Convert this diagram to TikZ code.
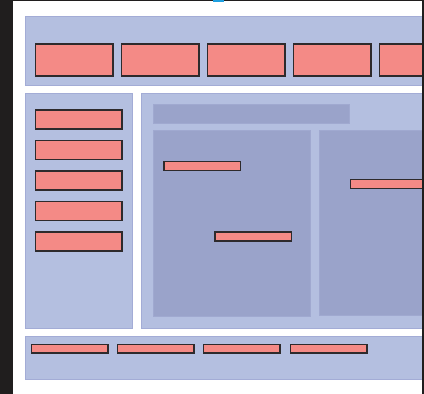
\documentclass[tikz,border=0pt]{standalone}
\definecolor{panelfill}{HTML}{B4BFE0}
\definecolor{paneledge}{HTML}{A3ACD6}
\definecolor{innerfill}{HTML}{9AA3CA}
\definecolor{inneredge}{HTML}{A0A9D0}
\definecolor{redfill}{HTML}{F48A86}
\definecolor{rededge}{HTML}{2E2A2C}
\definecolor{darkbar}{HTML}{201E1E}
\definecolor{dotblue}{HTML}{1EA0E0}
\newcommand\mybox[6]{\node[#1, anchor=north west, minimum width={(#5-#3)*1pt}, minimum height={(#6-#4)*1pt}] (#2) at (#3,#4) {};}
\begin{document}
\begin{tikzpicture}[x=1pt,y=-1pt,
  every node/.style={inner sep=0pt, outer sep=0pt, rectangle},
  panel/.style={fill=panelfill, draw=paneledge, line width=0.9pt},
  inner/.style={fill=innerfill, draw=inneredge, line width=0.6pt},
  redbox/.style={fill=redfill, draw=rededge, line width=1.1pt}]
\useasboundingbox (0,0) rectangle (424,394);
\fill[white] (0,0) rectangle (424,394);
\begin{scope}
\clip (13,1) rectangle (422,394);
% top panel
\mybox{panel}{top}{25}{16.7}{430}{85.3}
\mybox{redbox}{t1}{35.5}{44}{113}{76}
\mybox{redbox}{t2}{121.5}{44}{199}{76}
\mybox{redbox}{t3}{207.5}{44}{285}{76}
\mybox{redbox}{t4}{293.5}{44}{371}{76}
\mybox{redbox}{t5}{379.5}{44}{457}{76}
% left panel
\mybox{panel}{left}{25}{93.5}{132.7}{328}
\mybox{redbox}{l1}{35.5}{110}{122}{129}
\mybox{redbox}{l2}{35.5}{140.5}{122}{159.5}
\mybox{redbox}{l3}{35.5}{171}{122}{190}
\mybox{redbox}{l4}{35.5}{201.5}{122}{220.5}
\mybox{redbox}{l5}{35.5}{232}{122}{251}
% right panel
\mybox{panel}{right}{141}{93.5}{430}{328}
\mybox{inner}{header}{153.3}{104}{349.3}{123.3}
\mybox{inner}{in1}{153.3}{130}{310.3}{316.7}
\mybox{inner}{in2}{319}{130}{430}{315.3}
\mybox{redbox}{r1}{164}{161.3}{240.7}{170.3}
\mybox{redbox}{r2}{215}{232}{291.7}{241}
\mybox{redbox}{r3}{350.3}{179.7}{440}{188.7}
% bottom panel
\mybox{panel}{bottom}{25}{336.3}{430}{379}
\mybox{redbox}{b1}{31.3}{344.3}{108}{353}
\mybox{redbox}{b2}{117.3}{344.3}{194}{353}
\mybox{redbox}{b3}{203.3}{344.3}{280}{353}
\mybox{redbox}{b4}{290.7}{344.3}{367}{353}
\end{scope}
% frame
\fill[darkbar] (0,0) rectangle (13,394);
\fill[darkbar] (13,0) rectangle (424,1);
\fill[darkbar] (422,0) rectangle (424,394);
\fill[dotblue] (213,0) rectangle (224,1.6);
\end{tikzpicture}
\end{document}
